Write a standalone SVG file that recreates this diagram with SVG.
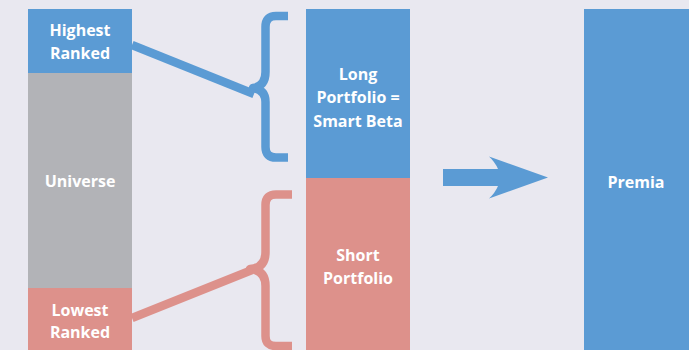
<svg xmlns="http://www.w3.org/2000/svg" width="689" height="350" viewBox="0 0 689 350">
<style>
.t{font-family:"Open Sans","Liberation Sans",sans-serif;font-weight:700;font-size:16px;fill:#fff;text-anchor:middle}
.blue{fill:#5b9bd4}
.grey{fill:#b2b3b7}
.pink{fill:#dd918b}
.sb{fill:none;stroke:#5b9bd4;stroke-width:8.5;stroke-linejoin:round}
.sp{fill:none;stroke:#dd918b;stroke-width:8.5;stroke-linejoin:round}
</style>
<rect width="689" height="350" fill="#e9e8f0"/>
<g id="highest"><rect class="blue" x="28" y="9" width="104" height="64"/><text class="t" x="80" y="36">Highest</text><text class="t" x="80" y="59">Ranked</text></g>
<g id="universe"><rect class="grey" x="28" y="73" width="104" height="215"/><text class="t" x="80" y="187">Universe</text></g>
<g id="lowest"><rect class="pink" x="28" y="288" width="104" height="62"/><text class="t" x="80" y="316">Lowest</text><text class="t" x="80" y="338">Ranked</text></g>
<g id="long"><rect class="blue" x="306" y="9" width="104" height="169"/><text class="t" x="358" y="80">Long</text><text class="t" x="358" y="103">Portfolio =</text><text class="t" x="358" y="126.5">Smart Beta</text></g>
<g id="short"><rect class="pink" x="306" y="178" width="104" height="172"/><text class="t" x="358" y="261">Short</text><text class="t" x="358" y="284">Portfolio</text></g>
<g id="premia"><rect class="blue" x="584" y="9" width="105" height="341"/><text class="t" x="636" y="188">Premia</text></g>
<g id="connectors">
<path class="sb" d="M288,16 H276 Q265.5,16 265.5,27 V72 Q265.5,86 253,88 Q265.5,90 265.5,102 V147 Q265.5,157.5 276,157.5 H288"/>
<path class="sb" d="M132,45 L254,94"/>
<path class="sp" d="M292,194.5 H276 Q265.5,194.5 265.5,205 V252 Q265.5,268 250,269 Q265.5,270 265.5,286 V336 Q265.5,346 276,346 H292"/>
<path class="sp" d="M132,318 L252,270"/>
<path class="blue" d="M443,169 H498 Q495,162 489,156.5 L548,177.5 L489,198.5 Q495,193 498,186 H443 Z"/>
</g>
</svg>
